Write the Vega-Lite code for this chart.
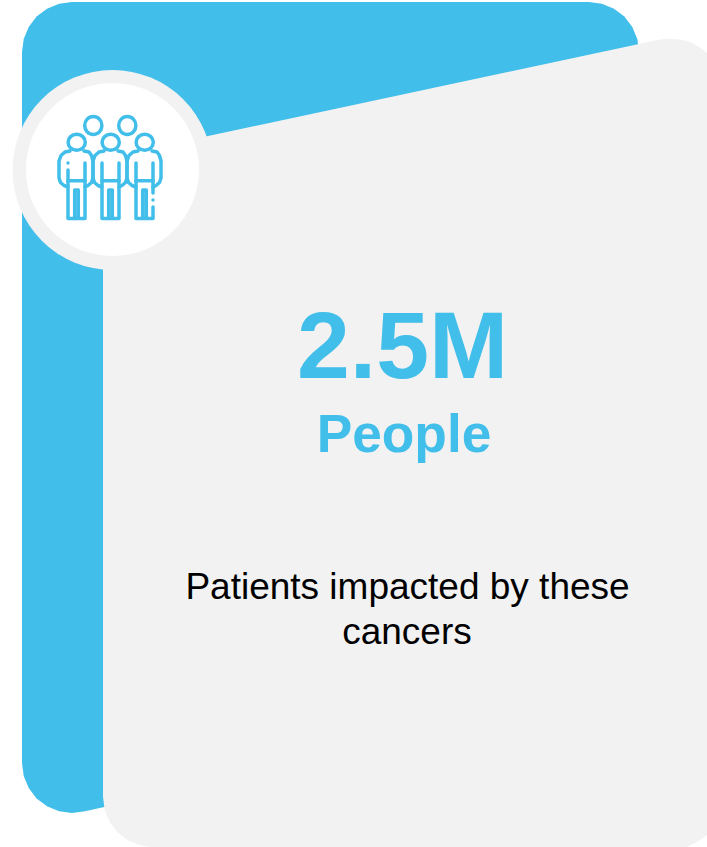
{
  "$schema": "https://vega.github.io/schema/vega-lite/v6.json",
  "width": 707,
  "height": 847,
  "padding": 0,
  "autosize": {"type": "fit", "contains": "padding"},
  "background": "#ffffff",
  "view": {"stroke": null, "fill": null},
  "datasets": {
    "cards": [
      {"card":"back","seq":1,"x":22,"y":52},{"card":"back","seq":2,"x":23.7,"y":39.1},{"card":"back","seq":3,"x":28.7,"y":27},{"card":"back","seq":4,"x":36.6,"y":16.6},{"card":"back","seq":5,"x":47,"y":8.7},{"card":"back","seq":6,"x":59.1,"y":3.7},{"card":"back","seq":7,"x":72,"y":2},
      {"card":"back","seq":8,"x":589,"y":2},{"card":"back","seq":9,"x":601.9,"y":3.7},{"card":"back","seq":10,"x":614,"y":8.7},{"card":"back","seq":11,"x":624.4,"y":16.6},{"card":"back","seq":12,"x":632.3,"y":27},{"card":"back","seq":13,"x":637.3,"y":39.1},{"card":"back","seq":14,"x":639,"y":50},
      {"card":"back","seq":15,"x":630,"y":100},{"card":"back","seq":16,"x":110,"y":805.8},{"card":"back","seq":17,"x":85,"y":811.3},{"card":"back","seq":18,"x":72,"y":813},{"card":"back","seq":19,"x":59.1,"y":811.3},{"card":"back","seq":20,"x":47,"y":806.3},{"card":"back","seq":21,"x":36.6,"y":798.4},{"card":"back","seq":22,"x":28.7,"y":788},{"card":"back","seq":23,"x":23.7,"y":776},{"card":"back","seq":24,"x":22,"y":763},
      {"card":"front","seq":1,"x":103,"y":160},{"card":"front","seq":2,"x":208,"y":136},{"card":"front","seq":3,"x":639,"y":44},{"card":"front","seq":4,"x":650,"y":41.6},{"card":"front","seq":5,"x":660,"y":39.6},{"card":"front","seq":6,"x":670,"y":38.7},{"card":"front","seq":7,"x":680,"y":39.5},{"card":"front","seq":8,"x":690,"y":42},{"card":"front","seq":9,"x":700,"y":47.5},{"card":"front","seq":10,"x":707,"y":53},{"card":"front","seq":11,"x":715,"y":62},{"card":"front","seq":12,"x":722,"y":75},
      {"card":"front","seq":13,"x":725,"y":90},{"card":"front","seq":14,"x":725,"y":800},{"card":"front","seq":15,"x":722,"y":815},{"card":"front","seq":16,"x":715,"y":828},{"card":"front","seq":17,"x":707,"y":835},{"card":"front","seq":18,"x":697,"y":842},{"card":"front","seq":19,"x":686,"y":847.5},{"card":"front","seq":20,"x":153,"y":847.5},{"card":"front","seq":21,"x":140,"y":845.3},{"card":"front","seq":22,"x":128,"y":840.3},{"card":"front","seq":23,"x":117.6,"y":832.4},{"card":"front","seq":24,"x":109.7,"y":822},{"card":"front","seq":25,"x":104.7,"y":810},{"card":"front","seq":26,"x":103,"y":797}
    ],
    "heads": [
      {"head":"b1","seq":1,"x":101.9,"y":125.5},{"head":"b1","seq":2,"x":99.4,"y":131.9},{"head":"b1","seq":3,"x":93.3,"y":134.5},{"head":"b1","seq":4,"x":87.2,"y":131.9},{"head":"b1","seq":5,"x":84.7,"y":125.5},{"head":"b1","seq":6,"x":87.2,"y":119.1},{"head":"b1","seq":7,"x":93.3,"y":116.5},{"head":"b1","seq":8,"x":99.4,"y":119.1},
      {"head":"b2","seq":1,"x":135.9,"y":125.5},{"head":"b2","seq":2,"x":133.4,"y":131.9},{"head":"b2","seq":3,"x":127.3,"y":134.5},{"head":"b2","seq":4,"x":121.2,"y":131.9},{"head":"b2","seq":5,"x":118.7,"y":125.5},{"head":"b2","seq":6,"x":121.2,"y":119.1},{"head":"b2","seq":7,"x":127.3,"y":116.5},{"head":"b2","seq":8,"x":133.4,"y":119.1},
      {"head":"f1","seq":1,"x":85.3,"y":142.3},{"head":"f1","seq":2,"x":82.8,"y":148},{"head":"f1","seq":3,"x":76.7,"y":150.3},{"head":"f1","seq":4,"x":70.6,"y":148},{"head":"f1","seq":5,"x":68.1,"y":142.3},{"head":"f1","seq":6,"x":70.6,"y":136.6},{"head":"f1","seq":7,"x":76.7,"y":134.3},{"head":"f1","seq":8,"x":82.8,"y":136.6},
      {"head":"f2","seq":1,"x":119.3,"y":142.3},{"head":"f2","seq":2,"x":116.8,"y":148},{"head":"f2","seq":3,"x":110.7,"y":150.3},{"head":"f2","seq":4,"x":104.6,"y":148},{"head":"f2","seq":5,"x":102.1,"y":142.3},{"head":"f2","seq":6,"x":104.6,"y":136.6},{"head":"f2","seq":7,"x":110.7,"y":134.3},{"head":"f2","seq":8,"x":116.8,"y":136.6},
      {"head":"f3","seq":1,"x":153.3,"y":142.3},{"head":"f3","seq":2,"x":150.8,"y":148},{"head":"f3","seq":3,"x":144.7,"y":150.3},{"head":"f3","seq":4,"x":138.6,"y":148},{"head":"f3","seq":5,"x":136.1,"y":142.3},{"head":"f3","seq":6,"x":138.6,"y":136.6},{"head":"f3","seq":7,"x":144.7,"y":134.3},{"head":"f3","seq":8,"x":150.8,"y":136.6}
    ],
    "bodies": [
      {"part":"p1arm","seq":1,"x":70,"y":151},{"part":"p1arm","seq":2,"x":65,"y":152},{"part":"p1arm","seq":3,"x":61,"y":155.5},{"part":"p1arm","seq":4,"x":59,"y":161},{"part":"p1arm","seq":5,"x":59,"y":178},{"part":"p1arm","seq":6,"x":60.5,"y":182.5},{"part":"p1arm","seq":7,"x":64,"y":185.5},{"part":"p1arm","seq":8,"x":68,"y":187},
      {"part":"p1armR","seq":1,"x":84,"y":151},{"part":"p1armR","seq":2,"x":89,"y":152},{"part":"p1armR","seq":3,"x":91.5,"y":155.5},{"part":"p1armR","seq":4,"x":93,"y":161},{"part":"p1armR","seq":5,"x":93,"y":178},{"part":"p1armR","seq":6,"x":91.5,"y":182.5},{"part":"p1armR","seq":7,"x":88,"y":185.5},{"part":"p1armR","seq":8,"x":85,"y":187},
      {"part":"p2arm","seq":1,"x":104,"y":151},{"part":"p2arm","seq":2,"x":99,"y":152},{"part":"p2arm","seq":3,"x":95,"y":155.5},{"part":"p2arm","seq":4,"x":93,"y":161},{"part":"p2arm","seq":5,"x":93,"y":178},{"part":"p2arm","seq":6,"x":94.5,"y":182.5},{"part":"p2arm","seq":7,"x":98,"y":185.5},{"part":"p2arm","seq":8,"x":102,"y":187},
      {"part":"p2armR","seq":1,"x":118,"y":151},{"part":"p2armR","seq":2,"x":123,"y":152},{"part":"p2armR","seq":3,"x":125.5,"y":155.5},{"part":"p2armR","seq":4,"x":127,"y":161},{"part":"p2armR","seq":5,"x":127,"y":178},{"part":"p2armR","seq":6,"x":125.5,"y":182.5},{"part":"p2armR","seq":7,"x":122,"y":185.5},{"part":"p2armR","seq":8,"x":119,"y":187},
      {"part":"p3arm","seq":1,"x":138,"y":151},{"part":"p3arm","seq":2,"x":133,"y":152},{"part":"p3arm","seq":3,"x":129,"y":155.5},{"part":"p3arm","seq":4,"x":127,"y":161},{"part":"p3arm","seq":5,"x":127,"y":178},{"part":"p3arm","seq":6,"x":128.5,"y":182.5},{"part":"p3arm","seq":7,"x":132,"y":185.5},{"part":"p3arm","seq":8,"x":136,"y":187},
      {"part":"p3armR","seq":1,"x":152,"y":151},{"part":"p3armR","seq":2,"x":157,"y":152},{"part":"p3armR","seq":3,"x":159.5,"y":155.5},{"part":"p3armR","seq":4,"x":161,"y":161},{"part":"p3armR","seq":5,"x":161,"y":178},{"part":"p3armR","seq":6,"x":159.5,"y":182.5},{"part":"p3armR","seq":7,"x":156,"y":185.5},{"part":"p3armR","seq":8,"x":153,"y":187},
      {"part":"p1leg","seq":1,"x":68,"y":170},{"part":"p1leg","seq":2,"x":68,"y":218.5},{"part":"p1leg","seq":3,"x":85,"y":218.5},{"part":"p1leg","seq":4,"x":85,"y":163},
      {"part":"p2leg","seq":1,"x":102,"y":163},{"part":"p2leg","seq":2,"x":102,"y":218.5},{"part":"p2leg","seq":3,"x":119,"y":218.5},{"part":"p2leg","seq":4,"x":119,"y":163},
      {"part":"p3leg","seq":1,"x":136,"y":163},{"part":"p3leg","seq":2,"x":136,"y":218.5},{"part":"p3leg","seq":3,"x":153,"y":218.5},{"part":"p3leg","seq":4,"x":153,"y":207},
      {"part":"p3legTop","seq":1,"x":153,"y":163},{"part":"p3legTop","seq":2,"x":153,"y":193},
      {"part":"p1dot","seq":1,"x":68,"y":163},{"part":"p1dot","seq":2,"x":68,"y":163.1},
      {"part":"p3dot","seq":1,"x":153,"y":200},{"part":"p3dot","seq":2,"x":153,"y":200.1},
      {"part":"p1waist","seq":1,"x":68,"y":180.7},{"part":"p1waist","seq":2,"x":85,"y":180.7},
      {"part":"p2waist","seq":1,"x":102,"y":180.7},{"part":"p2waist","seq":2,"x":119,"y":180.7},
      {"part":"p3waist","seq":1,"x":136,"y":180.7},{"part":"p3waist","seq":2,"x":153,"y":180.7},
      {"part":"p1gap","seq":1,"x":74.7,"y":218},{"part":"p1gap","seq":2,"x":74.7,"y":190},{"part":"p1gap","seq":3,"x":78.3,"y":190},{"part":"p1gap","seq":4,"x":78.3,"y":218},
      {"part":"p2gap","seq":1,"x":108.7,"y":218},{"part":"p2gap","seq":2,"x":108.7,"y":190},{"part":"p2gap","seq":3,"x":112.3,"y":190},{"part":"p2gap","seq":4,"x":112.3,"y":218},
      {"part":"p3gap","seq":1,"x":142.7,"y":218},{"part":"p3gap","seq":2,"x":142.7,"y":190},{"part":"p3gap","seq":3,"x":146.3,"y":190},{"part":"p3gap","seq":4,"x":146.3,"y":218}
    ]
  },
  "encoding": {
    "x": {"field": "x", "type": "quantitative", "axis": null, "scale": {"domain": [0, 707], "nice": false, "zero": false}},
    "y": {"field": "y", "type": "quantitative", "axis": null, "scale": {"domain": [847, 0], "nice": false, "zero": false}}
  },
  "layer": [
    {
      "data": {"name": "cards"},
      "transform": [{"filter": "datum.card === 'back'"}],
      "mark": {"type": "line", "fill": "#41BEE9", "stroke": null, "clip": true},
      "encoding": {"order": {"field": "seq", "type": "quantitative"}}
    },
    {
      "data": {"name": "cards"},
      "transform": [{"filter": "datum.card === 'front'"}],
      "mark": {"type": "line", "fill": "#F2F2F2", "stroke": null, "clip": true},
      "encoding": {"order": {"field": "seq", "type": "quantitative"}}
    },
    {
      "data": {"values": [{"x": 112.5, "y": 170}]},
      "mark": {"type": "point", "shape": "circle", "filled": true, "opacity": 1, "size": 40000, "color": "#F2F2F2"}
    },
    {
      "data": {"values": [{"x": 112.5, "y": 169.5}]},
      "mark": {"type": "point", "shape": "circle", "filled": true, "opacity": 1, "size": 29929, "color": "#ffffff"}
    },
    {
      "data": {"name": "heads"},
      "mark": {"type": "line", "interpolate": "cardinal-closed", "stroke": "#41BEE9", "strokeWidth": 3.5},
      "encoding": {"detail": {"field": "head"}, "order": {"field": "seq", "type": "quantitative"}}
    },
    {
      "data": {"name": "bodies"},
      "mark": {"type": "line", "stroke": "#41BEE9", "strokeWidth": 3.5, "strokeCap": "round", "strokeJoin": "round"},
      "encoding": {"detail": {"field": "part"}, "order": {"field": "seq", "type": "quantitative"}}
    },
    {
      "data": {"values": [{"x": 402.5, "y": 378, "label": "2.5M"}]},
      "mark": {"type": "text", "font": "Liberation Sans", "fontWeight": "bold", "fontSize": 95, "align": "center", "baseline": "alphabetic", "color": "#41BEE9"},
      "encoding": {"text": {"field": "label"}}
    },
    {
      "data": {"values": [{"x": 404, "y": 451.5, "label": "People"}]},
      "mark": {"type": "text", "font": "Liberation Sans", "fontWeight": "bold", "fontSize": 53.3, "align": "center", "baseline": "alphabetic", "color": "#41BEE9"},
      "encoding": {"text": {"field": "label"}}
    },
    {
      "data": {"values": [{"x": 407.5, "y": 598.5, "label": "Patients impacted by these"}, {"x": 407, "y": 643.5, "label": "cancers"}]},
      "mark": {"type": "text", "font": "Liberation Sans", "fontSize": 37, "align": "center", "baseline": "alphabetic", "color": "#000000"},
      "encoding": {"text": {"field": "label"}}
    }
  ]
}
